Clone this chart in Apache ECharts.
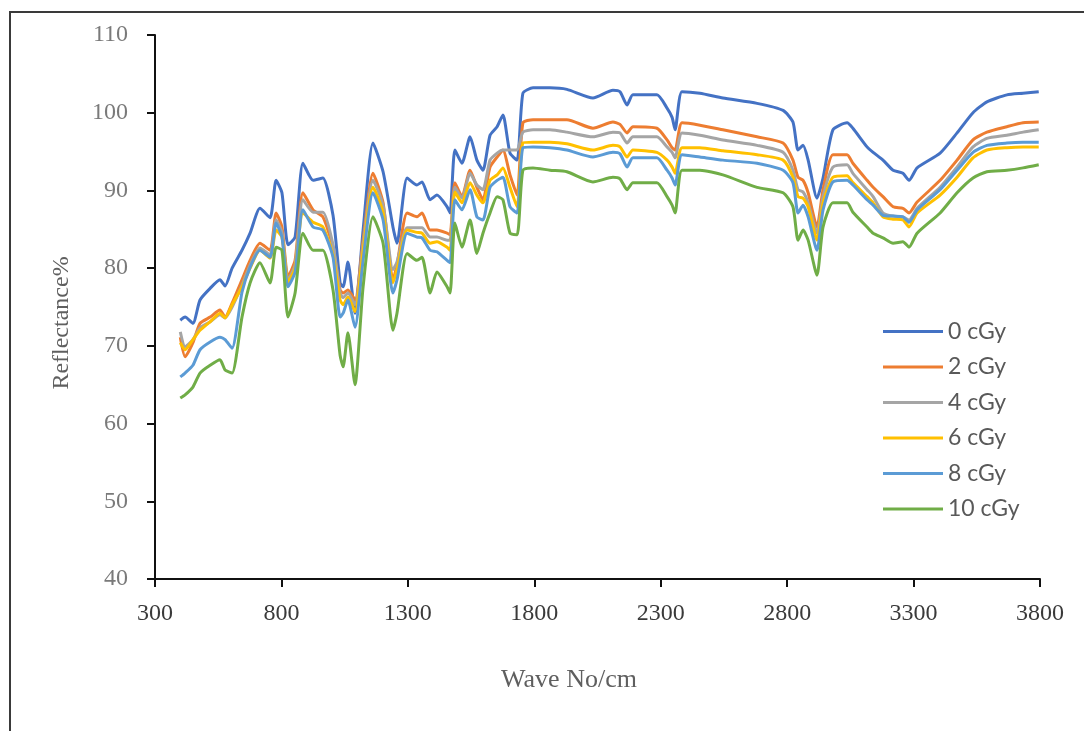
<!DOCTYPE html>
<html>
<head>
<meta charset="utf-8">
<script src="https://cdn.jsdelivr.net/npm/echarts@6/dist/echarts.min.js"></script>
<style>
  html, body { margin: 0; padding: 0; background: #ffffff; }
  #chart { width: 1084px; height: 731px; }
</style>
</head>
<body>
<div id="chart"></div>
<script>
// Wave numbers (cm^-1) shared by every spectrum
const waveNumbers = [400, 419, 450, 478, 518, 557, 577, 605, 644, 676, 715, 755, 779, 802, 826,
  854, 885, 925, 964, 1004, 1032, 1044, 1063, 1091, 1123, 1162, 1202, 1241, 1257, 1297,
  1336, 1356, 1388, 1415, 1455, 1467, 1486, 1514, 1546, 1573, 1597, 1625, 1653, 1676, 1704,
  1732, 1755, 1795, 1862, 1929, 2032, 2111, 2139, 2167, 2190, 2285, 2325, 2345, 2357, 2384,
  2455, 2546, 2681, 2784, 2823, 2843, 2863, 2883, 2918, 2942, 2981, 3037, 3060, 3116, 3140,
  3179, 3219, 3258, 3282, 3314, 3405, 3472, 3535, 3590, 3669, 3733, 3795];

// Reflectance (%) for each dose
const dose0 = [73.3, 73.7, 72.9, 75.9, 77.4, 78.5, 77.7, 80.0, 82.3, 84.5, 87.7, 86.5, 91.3, 89.7, 83.0,
  84.0, 93.5, 91.3, 91.6, 86.8, 78.1, 77.6, 80.8, 74.2, 84.9, 96.1, 92.4, 85.3, 83.2, 91.6,
  90.7, 91.1, 88.8, 89.4, 87.9, 87.1, 95.2, 93.5, 96.9, 93.9, 92.6, 97.1, 98.2, 99.7, 94.8,
  93.9, 102.5, 103.2, 103.2, 103.0, 101.9, 102.9, 102.7, 101.0, 102.3, 102.3, 100.6, 99.4, 97.8, 102.7,
  102.5, 101.9, 101.2, 100.3, 98.8, 95.2, 95.8, 93.9, 89.0, 91.6, 97.8, 98.7, 98.0, 95.6, 94.9,
  93.9, 92.6, 92.2, 91.3, 92.9, 94.8, 97.4, 100.0, 101.4, 102.3, 102.5, 102.7];

const dose2 = [71.1, 68.6, 70.4, 72.9, 73.7, 74.6, 73.7, 75.5, 78.5, 81.0, 83.2, 82.3, 87.1, 85.3, 78.9,
  81.0, 89.7, 87.5, 86.6, 82.7, 77.2, 76.8, 77.2, 75.9, 83.6, 92.2, 88.4, 78.5, 80.4, 87.1,
  86.6, 87.1, 84.9, 84.9, 84.5, 84.3, 91.0, 89.2, 92.6, 90.4, 88.8, 93.0, 94.3, 95.2, 92.0,
  89.4, 98.7, 99.1, 99.1, 99.1, 98.0, 98.8, 98.5, 97.4, 98.2, 98.0, 96.5, 95.5, 95.2, 98.7,
  98.4, 97.8, 96.9, 96.1, 93.9, 91.7, 91.3, 89.7, 85.3, 90.1, 94.6, 94.6, 93.5, 91.3, 90.4,
  89.2, 87.9, 87.7, 87.1, 88.5, 91.3, 93.9, 96.5, 97.5, 98.2, 98.7, 98.8];

const dose4 = [71.8, 69.9, 70.8, 72.3, 73.1, 74.0, 73.6, 75.0, 77.8, 80.4, 82.6, 81.7, 86.2, 84.6, 78.5,
  80.4, 88.8, 87.2, 87.2, 83.0, 76.8, 76.2, 76.8, 75.3, 83.0, 91.3, 88.1, 79.8, 80.8, 85.2,
  85.2, 85.2, 84.0, 84.0, 83.6, 83.6, 90.4, 89.0, 92.2, 90.7, 90.1, 93.9, 94.8, 95.2, 95.2,
  95.2, 97.5, 97.8, 97.8, 97.5, 96.9, 97.5, 97.4, 96.1, 96.9, 96.9, 95.6, 94.9, 94.2, 97.4,
  97.1, 96.5, 95.8, 94.9, 92.6, 90.1, 89.8, 88.4, 84.5, 89.2, 93.0, 93.3, 92.2, 90.1, 89.2,
  87.1, 86.7, 86.6, 86.2, 87.7, 90.4, 93.0, 95.6, 96.7, 97.1, 97.5, 97.8];

const dose6 = [70.4, 69.5, 70.8, 72.0, 73.1, 74.2, 73.6, 75.3, 77.6, 80.0, 82.3, 81.3, 84.9, 84.0, 78.2,
  80.0, 87.1, 85.9, 85.3, 81.7, 75.9, 75.3, 76.3, 74.4, 82.3, 90.4, 87.2, 78.1, 79.8, 84.9,
  84.6, 84.5, 83.2, 83.4, 82.7, 82.3, 89.8, 88.4, 91.0, 89.4, 88.4, 91.3, 92.0, 92.9, 90.4,
  87.9, 96.1, 96.2, 96.2, 96.0, 95.2, 95.8, 95.6, 94.3, 95.2, 94.9, 93.9, 93.0, 92.2, 95.5,
  95.5, 95.1, 94.6, 93.9, 91.7, 89.2, 89.0, 87.9, 83.6, 88.4, 91.7, 91.9, 91.0, 89.2, 88.4,
  86.6, 86.3, 86.2, 85.3, 87.1, 89.4, 91.7, 94.2, 95.2, 95.5, 95.6, 95.6];

const dose8 = [66.0, 66.5, 67.5, 69.5, 70.5, 71.1, 70.8, 69.7, 76.9, 80.1, 82.3, 81.4, 85.8, 84.0, 77.6,
  79.5, 87.5, 85.3, 84.9, 81.4, 73.7, 74.2, 75.9, 72.4, 81.0, 89.7, 86.2, 76.8, 78.5, 84.5,
  84.0, 83.9, 82.3, 82.1, 81.0, 80.7, 88.8, 87.5, 90.1, 86.6, 86.2, 90.4, 91.3, 91.7, 87.9,
  87.1, 95.5, 95.6, 95.5, 95.2, 94.3, 94.9, 94.7, 93.0, 94.2, 94.2, 92.6, 91.6, 90.7, 94.6,
  94.3, 93.9, 93.5, 92.6, 91.0, 87.1, 88.1, 86.6, 82.3, 87.5, 91.1, 91.3, 90.7, 88.8, 88.1,
  86.8, 86.7, 86.6, 85.9, 87.5, 90.1, 92.6, 94.9, 95.8, 96.1, 96.2, 96.2];

const dose10 = [63.3, 63.7, 64.7, 66.5, 67.5, 68.2, 66.9, 66.5, 73.7, 78.1, 80.7, 78.1, 82.7, 82.3, 73.7,
  76.8, 84.5, 82.3, 82.3, 77.2, 68.8, 67.3, 71.7, 65.0, 77.6, 86.6, 83.2, 72.0, 74.2, 81.9,
  81.0, 81.4, 76.8, 79.5, 77.6, 76.8, 85.8, 82.7, 86.2, 81.9, 84.5, 87.1, 89.2, 88.8, 84.5,
  84.3, 92.6, 92.9, 92.6, 92.4, 91.1, 91.7, 91.5, 90.1, 91.0, 91.0, 89.2, 88.1, 87.1, 92.6,
  92.6, 92.0, 90.4, 89.7, 87.9, 83.6, 84.9, 83.6, 79.1, 85.3, 88.4, 88.4, 87.2, 85.3, 84.5,
  83.9, 83.2, 83.4, 82.7, 84.5, 87.1, 89.7, 91.6, 92.4, 92.6, 92.9, 93.3];

const seriesNames = ['0 cGy', '2 cGy', '4 cGy', '6 cGy', '8 cGy', '10 cGy'];
const seriesValues = [dose0, dose2, dose4, dose6, dose8, dose10];
const seriesColors = ['#4472C4', '#ED7D31', '#A5A5A5', '#FFC000', '#5B9BD5', '#70AD47'];

const xTicks = { min: 300, max: 3800, step: 500 };
const yTicks = { min: 40, max: 110, step: 10 };

const serifFont = '"Liberation Serif", "Times New Roman", serif';

const chart = echarts.init(document.getElementById('chart'), null, { renderer: 'canvas' });

chart.setOption({
  backgroundColor: '#ffffff',
  animation: false,
  grid: { left: 155, right: 44, top: 35, bottom: 152, containLabel: false },
  xAxis: {
    type: 'value',
    min: xTicks.min, max: xTicks.max, interval: xTicks.step,
    axisLine: { show: true, onZero: false, lineStyle: { color: '#111', width: 2 } },
    axisTick: { show: true, inside: false, length: 8, lineStyle: { color: '#111', width: 2 } },
    axisLabel: {
      color: '#3a3a3a', fontFamily: serifFont, fontSize: 24, margin: 23,
      formatter: (v) => String(v)
    },
    splitLine: { show: false }
  },
  yAxis: {
    type: 'value',
    min: yTicks.min, max: yTicks.max, interval: yTicks.step,
    axisLine: { show: true, onZero: false, lineStyle: { color: '#111', width: 2 } },
    axisTick: { show: true, inside: false, length: 8, lineStyle: { color: '#111', width: 2 } },
    axisLabel: {
      color: '#7a7a7a', fontFamily: serifFont, fontSize: 24, margin: 27,
      formatter: (v) => String(v)
    },
    splitLine: { show: false }
  },
  legend: {
    orient: 'vertical',
    left: 883,
    top: 320,
    padding: 0,
    itemWidth: 60,
    itemHeight: 14,
    itemGap: 12.5,
    icon: 'path://M0,6 L60,6 L60,9 L0,9 Z',
    textStyle: { color: '#595959', fontFamily: 'Lato, "Open Sans", sans-serif', fontSize: 23, lineHeight: 22, padding: [0, 0, 0, 0] },
    data: seriesNames
  },
  graphic: [
    {
      type: 'rect',
      shape: { x: 10, y: 12, width: 1200, height: 900 },
      style: { fill: 'none', stroke: '#3a3a3a', lineWidth: 2 },
      silent: true
    },
    {
      type: 'text',
      x: 62, y: 323,
      rotation: Math.PI / 2,
      style: {
        text: 'Reflectance%',
        fill: '#5f5f5f',
        font: '24px ' + serifFont,
        textAlign: 'center',
        textVerticalAlign: 'middle'
      }
    },
    {
      type: 'text',
      x: 569, y: 680,
      style: {
        text: 'Wave No/cm',
        fill: '#5f5f5f',
        font: '26px ' + serifFont,
        textAlign: 'center',
        textVerticalAlign: 'middle'
      }
    }
  ],
  series: seriesNames.map((name, i) => ({
    name: name,
    type: 'line',
    symbol: 'none',
    smooth: 0.2,
    color: seriesColors[i],
    lineStyle: { width: 3, color: seriesColors[i] },
    data: waveNumbers.map((w, j) => [w, seriesValues[i][j]])
  }))
});
</script>
</body>
</html>
